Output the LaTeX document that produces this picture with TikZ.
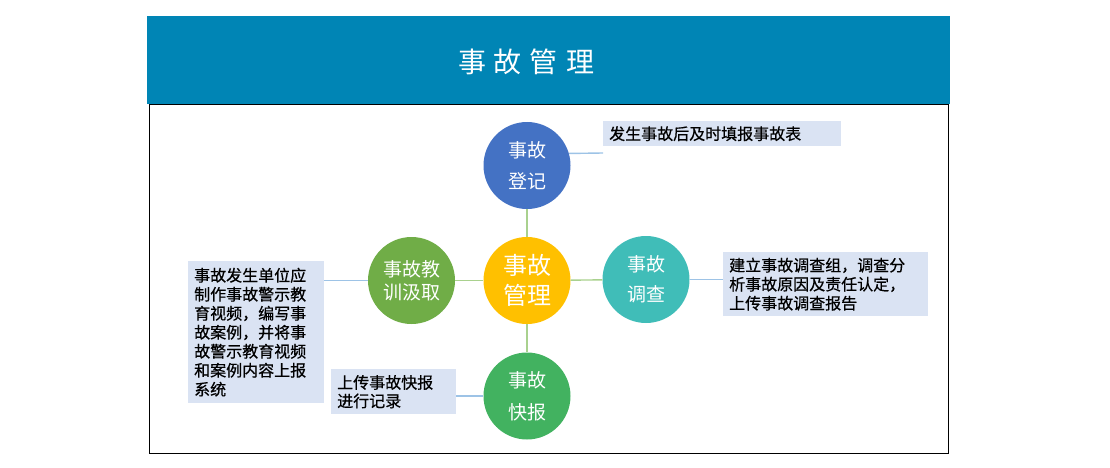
\documentclass[tikz,border=0pt]{standalone}
\usepackage{fontspec}
\setmainfont{Noto Sans CJK SC}
\newfontfamily\notefont[FakeBold=0.6]{Noto Sans CJK SC}
\definecolor{headblue}{RGB}{0,133,181}
\definecolor{regblue}{RGB}{68,114,196}
\definecolor{mgmtgold}{RGB}{255,192,0}
\definecolor{invteal}{RGB}{64,189,184}
\definecolor{lesgreen}{RGB}{112,173,71}
\definecolor{repgreen}{RGB}{66,178,96}
\definecolor{notefill}{RGB}{218,227,243}
\definecolor{spokegreen}{RGB}{169,209,142}
\definecolor{leadblue}{RGB}{157,195,230}
\begin{document}
\begin{tikzpicture}[x=1pt,y=-1pt,
        ball/.style={circle,minimum size=87pt,inner sep=0pt,text=white,align=center},
        note/.style={fill=notefill,anchor=north west,align=left,inner xsep=6pt,inner ysep=0pt,
            font=\notefont\fontsize{16}{19}\selectfont},
        spoke/.style={draw=spokegreen,line width=1.4pt},
        lead/.style={draw=leadblue,line width=1.4pt}]
    \useasboundingbox (0,0) rectangle (1110,468);
    % header and frame
    \fill[headblue] (147,16) rectangle (950,104);
    \node[text=white,font=\fontsize{28}{28}\selectfont] (title) at (526,62)
        {事\hspace{8pt}故\hspace{8pt}管\hspace{8pt}理};
    \draw[line width=0.9pt] (149,104) rectangle (948,453);
    % circles
    \node[ball,fill=mgmtgold,font=\fontsize{24}{30}\selectfont] (mgmt) at (527,280.5) {事故\\管理};
    \node[ball,fill=regblue,font=\fontsize{19}{31}\selectfont] (reg) at (527,165.5) {事故\\登记};
    \node[ball,fill=invteal,font=\fontsize{19}{30}\selectfont] (inv) at (646,279.5) {事故\\调查};
    \node[ball,fill=lesgreen,font=\fontsize{19}{23}\selectfont] (les) at (411.5,280.5) {事故教\\训汲取};
    \node[ball,fill=repgreen,font=\fontsize{19}{32}\selectfont] (rep) at (527,396) {事故\\快报};
    \foreach \n in {reg,inv,les,rep}
        \draw[spoke] (mgmt) -- (\n);
    % notes
    \node[note,minimum width=238pt,minimum height=25pt,text width=226pt] (regnote) at (603,121)
        {发生事故后及时填报事故表};
    \node[note,minimum width=205pt,minimum height=64pt,text width=193pt] (invnote) at (723,252)
        {建立事故调查组，调查分\\析事故原因及责任认定，\\上传事故调查报告};
    \node[note,minimum width=136pt,minimum height=142pt,text width=124pt] (lesnote) at (188,261)
        {事故发生单位应\\制作事故警示教\\育视频，编写事\\故案例，并将事\\故警示教育视频\\和案例内容上报\\系统};
    \node[note,minimum width=125pt,minimum height=45pt,text width=113pt,
        font=\notefont\fontsize{16}{18.5}\selectfont] (repnote) at (331,369)
        {上传事故快报\\进行记录};
    \coordinate (regend) at (603,153);
    \draw[lead] (reg.16) -- (regend);
    \draw[lead] (inv.east) -- (inv.east -| invnote.west);
    \draw[lead] (les.west) -- (les.west -| lesnote.east);
    \draw[lead] (rep.west) -- (rep.west -| repnote.east);
\end{tikzpicture}
\end{document}
